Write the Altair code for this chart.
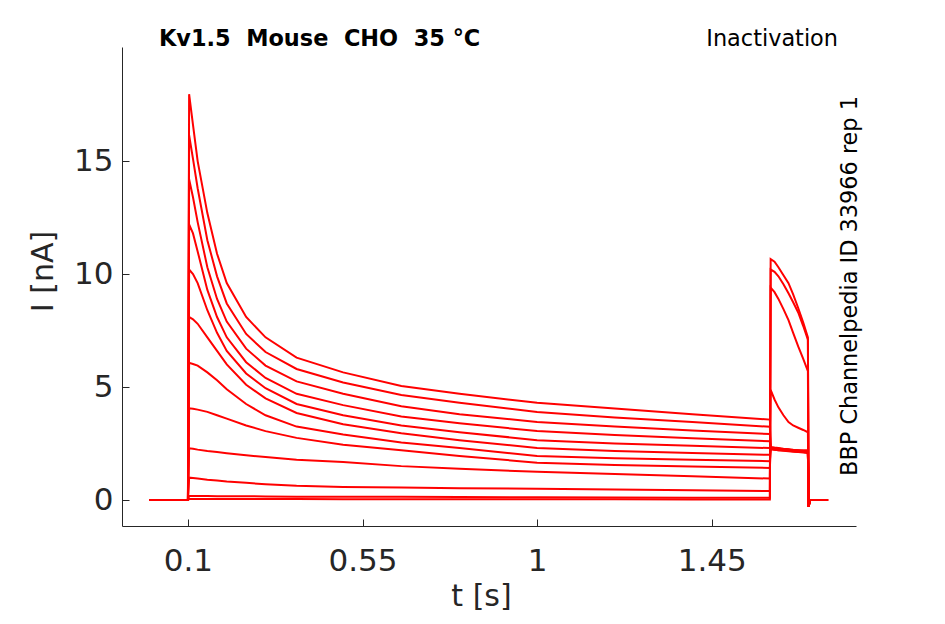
import altair as alt
import pandas as pd

# ---------------- data ----------------
trace_ids = ["A", "B", "C", "D", "E", "F", "G", "H", "I", "J", "K", "L"]

t_pre = [0.0, 0.1]
pre_vals = [0.0, 0.0]

t_main = [0.103, 0.113, 0.125, 0.15, 0.175, 0.2, 0.25, 0.3, 0.38, 0.5,
          0.65, 0.8, 1.0, 1.2, 1.4, 1.6]
main_A = [17.96, 16.6, 15.0, 12.7, 10.9, 9.6, 8.1, 7.2, 6.3, 5.65, 5.05, 4.7, 4.3, 4.05, 3.8, 3.56]
main_B = [16.15, 15.1, 13.8, 11.5, 9.9, 8.7, 7.35, 6.55, 5.8, 5.2, 4.65, 4.3, 3.9, 3.65, 3.45, 3.24]
main_C = [14.2, 13.4, 12.3, 10.3, 8.9, 7.9, 6.7, 5.95, 5.25, 4.7, 4.15, 3.8, 3.45, 3.25, 3.08, 2.92]
main_D = [12.2, 11.8, 11.0, 9.3, 8.1, 7.2, 6.1, 5.4, 4.7, 4.2, 3.7, 3.4, 3.05, 2.88, 2.73, 2.6]
main_E = [10.2, 10.0, 9.6, 8.4, 7.4, 6.6, 5.6, 4.95, 4.25, 3.75, 3.3, 3.0, 2.65, 2.5, 2.4, 2.3]
main_F = [8.1, 8.0, 7.8, 7.2, 6.6, 6.0, 5.1, 4.5, 3.85, 3.35, 2.95, 2.65, 2.3, 2.17, 2.08, 2.0]
main_G = [6.07, 6.02, 5.95, 5.65, 5.3, 4.9, 4.25, 3.75, 3.25, 2.9, 2.55, 2.3, 1.95, 1.85, 1.78, 1.72]
main_H = [4.06, 4.04, 4.0, 3.9, 3.75, 3.6, 3.3, 3.05, 2.75, 2.45, 2.2, 1.95, 1.65, 1.55, 1.48, 1.42]
main_I = [2.29, 2.27, 2.23, 2.17, 2.12, 2.07, 1.98, 1.9, 1.78, 1.68, 1.5, 1.38, 1.25, 1.15, 1.05, 0.95]
main_J = [0.99, 0.97, 0.95, 0.9, 0.86, 0.82, 0.76, 0.7, 0.63, 0.58, 0.55, 0.52, 0.5, 0.47, 0.43, 0.4]
main_K = [0.18, 0.18, 0.18, 0.18, 0.17, 0.17, 0.17, 0.16, 0.15, 0.15, 0.14, 0.13, 0.12, 0.11, 0.1, 0.1]
main_L = [0.04, 0.04, 0.04, 0.04, 0.04, 0.04, 0.04, 0.04, 0.04, 0.03, 0.03, 0.03, 0.03, 0.03, 0.02, 0.02]

t_test = [1.602, 1.612, 1.622, 1.635, 1.648, 1.66, 1.673, 1.686, 1.698]
test_A = [2.35, 2.32, 2.3, 2.27, 2.25, 2.22, 2.2, 2.2, 2.2]
test_B = [2.3, 2.3, 2.28, 2.25, 2.22, 2.2, 2.2, 2.17, 2.15]
test_C = [2.32, 2.28, 2.26, 2.25, 2.24, 2.2, 2.18, 2.16, 2.15]
test_D = [2.28, 2.26, 2.25, 2.22, 2.2, 2.18, 2.17, 2.14, 2.12]
test_E = [2.3, 2.27, 2.24, 2.23, 2.22, 2.19, 2.16, 2.14, 2.12]
test_F = [2.26, 2.24, 2.22, 2.2, 2.18, 2.16, 2.15, 2.12, 2.1]
test_G = [2.28, 2.24, 2.2, 2.2, 2.2, 2.17, 2.14, 2.12, 2.1]
test_H = [2.25, 2.22, 2.2, 2.18, 2.16, 2.14, 2.12, 2.1, 2.08]
test_I = [4.87, 4.45, 4.1, 3.75, 3.45, 3.3, 3.2, 3.1, 3.0]
test_J = [9.4, 9.2, 8.9, 8.45, 7.96, 7.4, 6.8, 6.25, 5.7]
test_K = [10.2, 10.1, 9.9, 9.55, 9.15, 8.75, 8.3, 7.7, 7.1]
test_L = [10.66, 10.55, 10.3, 9.95, 9.6, 9.1, 8.5, 7.85, 7.2]

t_post = [1.700, 1.703, 1.75]
post_vals = [-0.3, 0.0, 0.0]

x_ticks = [0.1, 0.55, 1, 1.45]
y_ticks = [0, 5, 10, 15]

title_left = "Kv1.5\u00a0\u00a0Mouse\u00a0\u00a0CHO\u00a0\u00a035 °C"
title_right = "Inactivation"
side_text = "BBP Channelpedia ID 33966 rep 1"

main_vals = dict(zip(trace_ids, [main_A, main_B, main_C, main_D, main_E, main_F,
                                 main_G, main_H, main_I, main_J, main_K, main_L]))
test_vals = dict(zip(trace_ids, [test_A, test_B, test_C, test_D, test_E, test_F,
                                 test_G, test_H, test_I, test_J, test_K, test_L]))

rows = []
for tr in trace_ids:
    seq = 0
    for ts, vs in ((t_pre, pre_vals), (t_main, main_vals[tr]),
                   (t_test, test_vals[tr]), (t_post, post_vals)):
        for t, v in zip(ts, vs):
            rows.append({"trace": tr, "t": t, "i": v, "seq": seq})
            seq += 1
df = pd.DataFrame(rows)

FONT = "DejaVu Sans"
GREY = "#262626"

x_scale = alt.Scale(domain=[-0.07, 1.822], nice=False, zero=False)
y_scale = alt.Scale(domain=[-1.15, 20.05], nice=False, zero=False)

lines = alt.Chart(df).mark_line(color="#ff0000", strokeWidth=2).encode(
    x=alt.X("t:Q", scale=x_scale,
            axis=alt.Axis(values=x_ticks, format=".3~g", title="t [s]",
                          tickSize={"expr": "-7"}, labelPadding=27,
                          titleX=359, titleY=79, titleBaseline="alphabetic",
                          titleAngle=0)),
    y=alt.Y("i:Q", scale=y_scale,
            axis=alt.Axis(values=y_ticks, format=".3~g", title="I [nA]",
                          tickSize={"expr": "-7"}, labelPadding=16,
                          titleX=-70, titleY=224, titleAngle=-90,
                          titleBaseline="alphabetic", titleAlign="center")),
    detail="trace:N",
    order="seq:Q",
)

t1 = alt.Chart(pd.DataFrame({"label": [title_left]})).mark_text(
    align="left", baseline="alphabetic", font=FONT, fontSize=22.4,
    fontWeight="bold", color="black"
).encode(x=alt.value(37), y=alt.value(-1), text="label:N")

t2 = alt.Chart(pd.DataFrame({"label": [title_right]})).mark_text(
    align="right", baseline="alphabetic", font=FONT, fontSize=22.4,
    color="black"
).encode(x=alt.value(716), y=alt.value(-1), text="label:N")

t3 = alt.Chart(pd.DataFrame({"label": [side_text]})).mark_text(
    align="center", baseline="middle", font=FONT, fontSize=22.4,
    angle=270, color="black"
).encode(x=alt.value(728), y=alt.value(239), text="label:N")

chart = alt.layer(lines, t1, t2, t3).properties(
    width=734, height=479,
    padding={"left": 114, "top": 39, "right": 70, "bottom": 96},
    autosize="none", background="white",
).configure_view(stroke=None).configure_axis(
    grid=False, domainColor=GREY, tickColor=GREY, domainWidth=1, tickWidth=1,
    labelFont=FONT, labelFontSize=31, labelColor=GREY,
    titleFont=FONT, titleFontSize=30, titleFontWeight="normal", titleColor=GREY,
)

chart.save("out.html", embed_options={"renderer": "svg", "actions": False})
